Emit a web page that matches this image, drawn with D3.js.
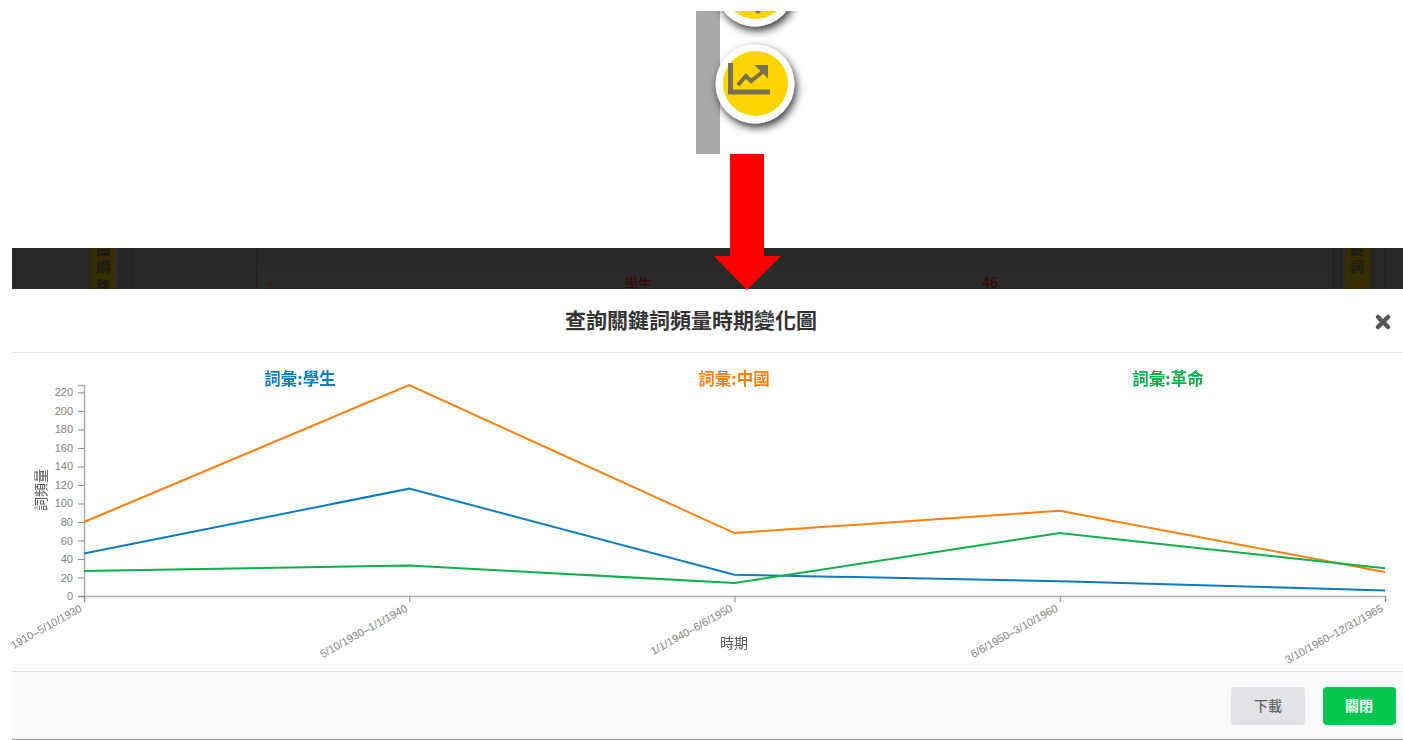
<!DOCTYPE html>
<html lang="zh-Hant">
<meta charset="utf-8">
<style>
  html, body { margin: 0; padding: 0; background: #fff; }
  svg { display: block; filter: blur(0.4px); }
  text { font-family: "Noto Sans CJK TC", "Liberation Sans", sans-serif; }

  .tick text { font: 11px "Liberation Sans", sans-serif; fill: #858585; }
  .tick line { stroke: #888; stroke-width: 1px; }
  .domain { stroke: #aaa; stroke-width: 1.5px; fill: none; }
  .line { fill: none; stroke-width: 2px; }
  .legendLabel { font-size: 16.5px; font-weight: 700; text-anchor: middle; }
  .axisLabel { font-size: 14px; fill: #5a5a5a; text-anchor: middle; }
</style>
<body>
<script src="https://d3js.org/d3.v7.min.js"></script>
<script>
  const periods = ["1910–5/10/1930", "5/10/1930–1/1/1940", "1/1/1940–6/6/1950", "6/6/1950–3/10/1960", "3/10/1960–12/31/1965"];
  const student = [46, 116, 23, 16, 6];
  const china = [80, 228, 68, 92, 26];
  const revolution = [27, 33, 14, 68, 30];
  const seriesNames = ["詞彙:學生", "詞彙:中國", "詞彙:革命"];
  const seriesColors = ["#0f7cc0", "#ff7f0e", "#0db14b"];
  const yTicks = [0, 20, 40, 60, 80, 100, 120, 140, 160, 180, 200, 220];

  const width = 1403, height = 740;

  const svg = d3.select("body").append("svg")
      .attr("width", width)
      .attr("height", height);

  const defs = svg.append("defs");
  defs.append("filter").attr("id", "shadow")
      .attr("x", "-40%").attr("y", "-40%").attr("width", "190%").attr("height", "190%")
    .append("feDropShadow")
      .attr("dx", 2).attr("dy", 4).attr("stdDeviation", 4).attr("flood-color", "#000").attr("flood-opacity", 0.8);
  defs.append("clipPath").attr("id", "iconClip")
    .append("rect").attr("x", 696).attr("y", 11).attr("width", 130).attr("height", 143);
  defs.append("clipPath").attr("id", "stripClip")
    .append("rect").attr("x", 12).attr("y", 248).attr("width", 1391).attr("height", 41);

  // toolbar screenshot at the top
  const icon = svg.append("g").attr("clip-path", "url(#iconClip)");
  icon.append("rect").attr("x", 696).attr("y", 11).attr("width", 24).attr("height", 143).attr("fill", "#a9a9a9");

  [-13, 84].forEach(cy => {
    icon.append("circle").attr("cx", 755).attr("cy", cy).attr("r", 39.5).attr("fill", "#fff").attr("filter", "url(#shadow)");
    icon.append("circle").attr("cx", 755.5).attr("cy", cy - 0.5).attr("r", 32.5).attr("fill", "#ffd500");
  });
  icon.append("path")
      .attr("d", "M730.5,63V92H770")
      .attr("fill", "none").attr("stroke", "#77714f").attr("stroke-width", 5);
  icon.append("path")
      .attr("d", "M738,85L746,76L751,81L765,70")
      .attr("fill", "none").attr("stroke", "#77714f").attr("stroke-width", 4);
  icon.append("path")
      .attr("d", "M757,66H767V76Z")
      .attr("fill", "#77714f").attr("stroke", "#77714f").attr("stroke-width", 2);
  icon.append("circle").attr("cx", 758).attr("cy", 11).attr("r", 2.5).attr("fill", "#77714f");

  // dimmed page behind the dialog
  const strip = svg.append("g").attr("clip-path", "url(#stripClip)");
  strip.append("rect").attr("x", 12).attr("y", 248).attr("width", 1391).attr("height", 41).attr("fill", "#282828");
  strip.append("rect").attr("x", 256).attr("y", 266).attr("width", 1075).attr("height", 23).attr("fill", "#2a2a2a");
  [[91, 25], [1345, 25]].forEach(d => {
    strip.append("rect").attr("x", d[0]).attr("y", 248).attr("width", d[1]).attr("height", 41).attr("fill", "#362d00");
  });
  [119, 131, 256, 1333, 1340, 1373, 1384].forEach(x => {
    strip.append("rect").attr("x", x).attr("y", 248).attr("width", 1.5).attr("height", 41).attr("fill", "#212121");
  });
  const dimText = (x, y, str, color, size, weight) => strip.append("text")
      .attr("x", x).attr("y", y).attr("text-anchor", "middle")
      .attr("font-size", size).attr("font-weight", weight).attr("fill", color).text(str);
  dimText(103, 272, "網", "#1a1a1a", 14, 700);
  dimText(103, 291, "路", "#1a1a1a", 14, 700);
  dimText(103, 254, "圖", "#1a1a1a", 14, 700);
  dimText(1357, 272, "詞", "#1a1a1a", 14, 700);
  dimText(1357, 254, "鍵", "#1a1a1a", 14, 700);
  dimText(270, 289, "+", "#4a0d0d", 13, 400);
  dimText(638, 289, "學生", "#3a0a0a", 14, 500);
  dimText(990, 288, "46", "#3a0a0a", 14, 500);

  // dialog
  svg.append("rect").attr("x", 12).attr("y", 289).attr("width", 1391).attr("height", 451).attr("fill", "#fff");
  svg.append("rect").attr("x", 12).attr("y", 352).attr("width", 1391).attr("height", 1).attr("fill", "#e4e4e4");
  svg.append("rect").attr("x", 12).attr("y", 672).attr("width", 1391).attr("height", 67).attr("fill", "#f8f9fb");
  svg.append("rect").attr("x", 12).attr("y", 671).attr("width", 1391).attr("height", 1).attr("fill", "#e0e0e0");
  svg.append("rect").attr("x", 12).attr("y", 739).attr("width", 1391).attr("height", 1).attr("fill", "#9a9a9a");

  svg.append("text")
      .attr("x", 691).attr("y", 328).attr("text-anchor", "middle")
      .attr("font-size", 21).attr("font-weight", 700).attr("fill", "#333")
      .text("查詢關鍵詞頻量時期變化圖");
  svg.append("path")
      .attr("d", "M1378,317L1388,327M1388,317L1378,327")
      .attr("stroke", "#555").attr("stroke-width", 4.5).attr("stroke-linecap", "round");

  // red arrow
  svg.append("path")
      .attr("d", "M730,154H764V256H781L747,290L714,256H730Z")
      .attr("fill", "#fe0000");

  // chart
  const x = d3.scalePoint().domain(periods).range([84, 1385]);
  const y = d3.scaleLinear().domain([0, 228]).range([596, 385]);

  svg.append("g")
      .attr("transform", "translate(84,0)")
      .call(d3.axisLeft(y).tickValues(yTicks).tickPadding(5));

  svg.append("g")
      .attr("transform", "translate(0,596)")
      .call(d3.axisBottom(x))
    .selectAll(".tick text")
      .attr("text-anchor", "end")
      .attr("transform", "translate(-7,-2) rotate(-29)")
      .attr("dx", "-0.3em")
      .attr("dy", "0.75em");

  const line = d3.line()
      .x((d, i) => x(periods[i]))
      .y(d => y(d));

  [student, china, revolution].forEach((values, i) => {
    svg.append("path")
        .datum(values)
        .attr("class", "line")
        .attr("stroke", seriesColors[i])
        .attr("d", line);
  });

  const legendX = d3.scalePoint().domain(seriesNames).range([300, 1168]);
  svg.selectAll(".legendLabel")
      .data(seriesNames)
      .join("text")
        .attr("class", "legendLabel")
        .attr("x", d => legendX(d))
        .attr("y", 385)
        .attr("fill", (d, i) => seriesColors[i])
        .text(d => d);

  svg.append("text")
      .attr("class", "axisLabel")
      .attr("x", 734).attr("y", 648)
      .text("時期");
  svg.append("text")
      .attr("class", "axisLabel")
      .attr("transform", "translate(46,490) rotate(-90)")
      .text("詞頻量");

  // footer buttons
  svg.append("rect").attr("x", 1231).attr("y", 687).attr("width", 74).attr("height", 38).attr("rx", 4).attr("fill", "#e1e3e6");
  svg.append("text").attr("x", 1268).attr("y", 711).attr("text-anchor", "middle")
      .attr("font-size", 14).attr("font-weight", 500).attr("fill", "#666").text("下載");
  svg.append("rect").attr("x", 1323).attr("y", 687).attr("width", 73).attr("height", 38).attr("rx", 4).attr("fill", "#04c64f");
  svg.append("text").attr("x", 1359).attr("y", 711).attr("text-anchor", "middle")
      .attr("font-size", 14).attr("font-weight", 700).attr("fill", "#fff").text("關閉");
</script>
</body>
</html>
